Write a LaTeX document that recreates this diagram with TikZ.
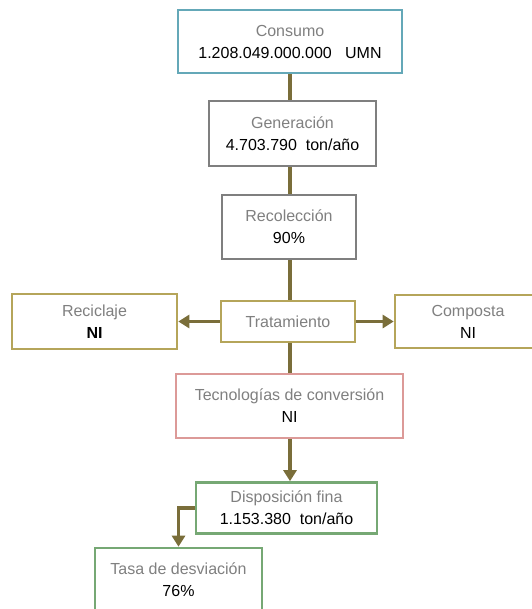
\documentclass[tikz,border=0pt]{standalone}
\usepackage{fontspec}
\setmainfont{Liberation Sans}
\usetikzlibrary{arrows.meta}
\definecolor{conn}{HTML}{7A6E3A}
\definecolor{tealb}{HTML}{64A8B8}
\definecolor{grayb}{HTML}{7F7F7F}
\definecolor{goldb}{HTML}{B5A55A}
\definecolor{pinkb}{HTML}{DC9A98}
\definecolor{greenb}{HTML}{76A874}
\definecolor{labelgray}{HTML}{808080}
\newcommand{\lbl}[1]{\textcolor{labelgray}{#1}}
\begin{document}
\begin{tikzpicture}[x=1pt,y=-1pt,
  box/.style={draw, line width=2.6pt, fill=white, inner sep=0pt, align=center,
    font=\fontsize{16}{22}\selectfont, text=black},
  link/.style={draw=conn, line width=3.5pt},
  arr/.style={link, -{Triangle[length=11pt,width=13pt]}}]
\useasboundingbox (0,0) rectangle (531,609);
\node[box, draw=tealb, minimum width=224pt, minimum height=63pt] (consumo) at (290,41.5)
  {\lbl{Consumo}\\1.208.049.000.000\ \ \ UMN};
\node[box, draw=grayb, minimum width=167pt, minimum height=65pt] (generacion) at (292.5,133.5)
  {\lbl{Generación}\\4.703.790\ \ ton/año};
\node[box, draw=grayb, minimum width=134pt, minimum height=64pt] (recoleccion) at (289,227)
  {\lbl{Recolección}\\90\%};
\node[box, draw=goldb, minimum width=134pt, minimum height=41pt] (tratamiento) at (288,321.5)
  {\lbl{Tratamiento}};
\node[box, draw=goldb, minimum width=165pt, minimum height=55pt] (reciclaje) at (94.5,321.5)
  {\lbl{Reciclaje}\\\textbf{NI}};
\node[box, draw=goldb, minimum width=146pt, minimum height=53pt] (composta) at (468,321.5)
  {\lbl{Composta}\\NI};
\node[box, draw=pinkb, minimum width=227pt, minimum height=64pt] (tecnologias) at (289.5,406)
  {\lbl{Tecnologías de conversión}\\NI};
\node[box, draw=greenb, minimum width=181pt, minimum height=51pt] (disposicion) at (286.5,508)
  {\lbl{Disposición fina}\\1.153.380\ \ ton/año};
\node[box, draw=greenb, minimum width=167pt, minimum height=64pt] (tasa) at (178.5,580)
  {\lbl{Tasa de desviación}\\76\%};
\draw[link] (consumo.south) -- (consumo.south |- generacion.north);
\draw[link] (consumo.south |- generacion.south) -- (consumo.south |- recoleccion.north);
\draw[link] (consumo.south |- recoleccion.south) -- (consumo.south |- tratamiento.north);
\draw[link] (consumo.south |- tratamiento.south) -- (consumo.south |- tecnologias.north);
\draw[arr] (consumo.south |- tecnologias.south) -- (consumo.south |- disposicion.north);
\draw[arr] (tratamiento.west) -- (reciclaje.east);
\draw[arr] (tratamiento.east) -- (composta.west);
\draw[arr] (disposicion.west) -| (tasa.north);
\end{tikzpicture}
\end{document}
